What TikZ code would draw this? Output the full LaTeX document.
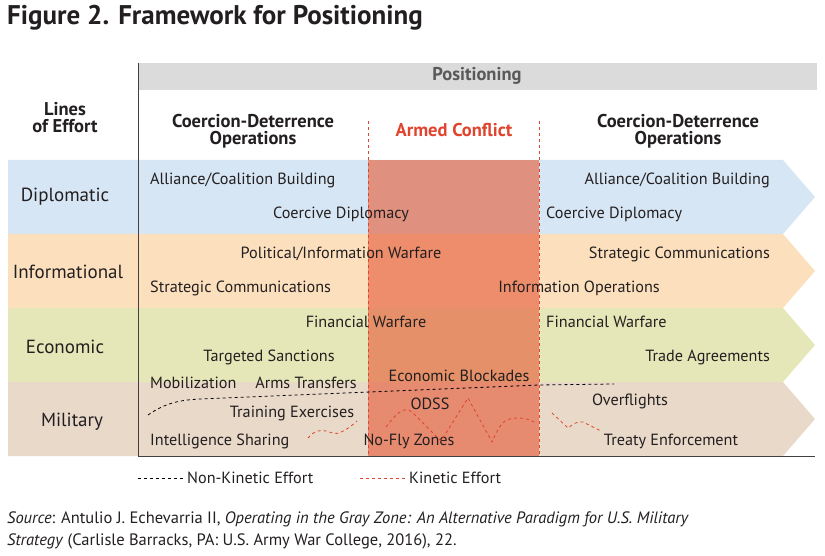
\documentclass[tikz,border=0pt]{standalone}
\usepackage{fontspec}
\setmainfont{PT Sans}
\definecolor{dipc}{HTML}{D7E6F4}
\definecolor{infc}{HTML}{FCE0BE}
\definecolor{ecoc}{HTML}{E6E7B8}
\definecolor{milc}{HTML}{E8D9C9}
\definecolor{warc}{HTML}{E5623F}
\definecolor{redl}{HTML}{E0442E}
\definecolor{txt}{HTML}{231F20}
\begin{document}
\begin{tikzpicture}[x=1pt,y=-1pt,
  lbl/.style={font=\fontsize{16.2}{18}\selectfont, text=txt, inner sep=0pt},
  hdr/.style={font=\fontsize{18.5}{20}\selectfont\bfseries, text=txt, align=center, inner sep=0pt},
  row/.style={font=\fontsize{19}{21}\selectfont, text=txt, inner sep=0pt},
  nk/.style={dashed, line width=0.8pt, black},
  kin/.style={dashed, line width=0.8pt, redl}]
\useasboundingbox (0,0) rectangle (825,556);
\node[anchor=west, font=\fontsize{27}{29}\selectfont\bfseries, text=txt, inner sep=0pt] (title) at (7,18) {Figure 2. Framework for Positioning};
% header
\fill[gray!28] (138,63) rectangle (817,90);
\node[hdr, text=black!65] (pos) at (477,76) {Positioning};
% bands
\foreach \c/\t in {dipc/160, infc/234, ecoc/308, milc/382}{
  \fill[\c] (8,\t) -- (783,\t) -- (815,\t+37) -- (783,\t+74) -- (8,\t+74) -- cycle;
}
\fill[warc, opacity=0.65] (368,160) rectangle (539,456);
\draw[line width=0.8pt, black!75] (138,63) -- (138,456) -- (815,456);
\draw[kin] (368,121) -- (368,456);
\draw[kin] (539,121) -- (539,456);
% headers
\node[hdr] (loe) at (65,118) {Lines\\[-3pt]of Effort};
\node[hdr] (cd1) at (253,131) {Coercion-Deterrence\\[-3pt]Operations};
\node[hdr] (cd2) at (678,131) {Coercion-Deterrence\\[-3pt]Operations};
\node[hdr, text=redl] (ac) at (454,130) {Armed Conflict};
% row labels
\node[row] (d) at (65,197) {Diplomatic};
\node[row] (i) at (68,272) {Informational};
\node[row] (e) at (65,347) {Economic};
\node[row] (m) at (72,422) {Military};
% diplomatic
\node[lbl, anchor=west] (a1) at (150,180) {Alliance/Coalition Building};
\node[lbl] (a2) at (341,214) {Coercive Diplomacy};
\node[lbl, anchor=east] (a3) at (770,180) {Alliance/Coalition Building};
\node[lbl, anchor=west] (a4) at (546,214) {Coercive Diplomacy};
% informational
\node[lbl] (b1) at (341,254) {Political/Information Warfare};
\node[lbl, anchor=west] (b2) at (150,288) {Strategic Communications};
\node[lbl, anchor=east] (b3) at (770,254) {Strategic Communications};
\node[lbl] (b4) at (579,288) {Information Operations};
% economic
\node[lbl] (c1) at (366,322) {Financial Warfare};
\node[lbl] (c2) at (269,357) {Targeted Sanctions};
\node[lbl, anchor=west] (c3) at (546,322) {Financial Warfare};
\node[lbl, anchor=east] (c4) at (770,357) {Trade Agreements};
% military
\node[lbl, anchor=west] (m1) at (150,383) {Mobilization};
\node[lbl] (m2) at (306,383) {Arms Transfers};
\node[lbl] (m3) at (459,376) {Economic Blockades};
\node[lbl] (m4) at (292,413) {Training Exercises};
\node[lbl] (m5) at (430,404) {ODSS};
\node[lbl] (m6) at (630,401) {Overflights};
\node[lbl, anchor=west] (m7) at (150,441) {Intelligence Sharing};
\node[lbl] (m8) at (409,441) {No-Fly Zones};
\node[lbl] (m9) at (671,441) {Treaty Enforcement};
% effort curves
\draw[nk] (148,415) .. controls (165,403) and (180,400) .. (200,399) -- (370,392) -- (539,385) -- (614,384);
\draw[kin] (308,438) .. controls (315,430) and (320,430) .. (326,431) .. controls (332,433) and (336,434) .. (339,433) .. controls (344,431) and (348,428) .. (350,427) -- (357,421);
\draw[kin] (386,427) .. controls (395,415) and (404,405) .. (412,412) -- (441,441) -- (468,398) -- (492,442) .. controls (498,428) and (503,420) .. (510,419) .. controls (518,417) and (527,418) .. (534,422);
\draw[kin] (552,413) -- (568,428) .. controls (573,424) and (578,421) .. (583,422) -- (601,431);
% legend
\coordinate (l1a) at (138,478); \coordinate (l1b) at (183,478);
\draw[nk] (l1a) -- (l1b);
\node[lbl, anchor=west] (lt1) at (187,478) {Non-Kinetic Effort};
\coordinate (l2a) at (360,478); \coordinate (l2b) at (405,478);
\draw[kin] (l2a) -- (l2b);
\node[lbl, anchor=west] (lt2) at (409,478) {Kinetic Effort};
% source
\node[lbl, anchor=west, font=\fontsize{16.5}{22}\selectfont, align=left] (src) at (7,530) {\textit{Source}: Antulio J. Echevarria II, \textit{Operating in the Gray Zone: An Alternative Paradigm for U.S. Military}\\\textit{Strategy} (Carlisle Barracks, PA: U.S. Army War College, 2016), 22.};
\end{tikzpicture}
\end{document}
